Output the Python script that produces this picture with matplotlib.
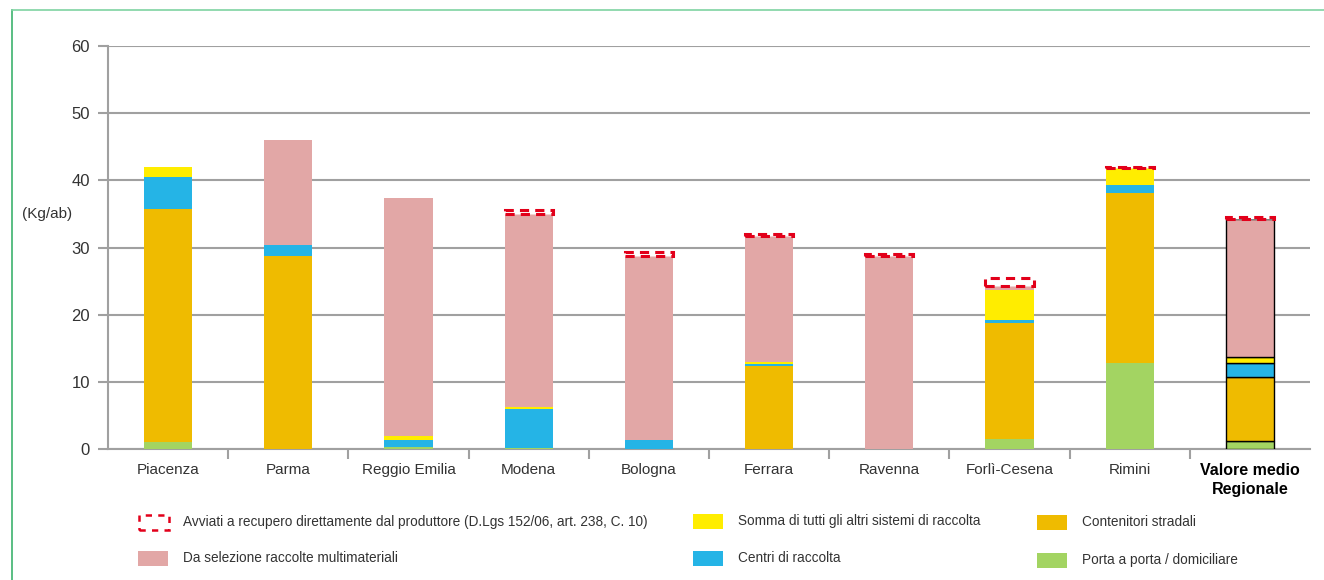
import matplotlib
matplotlib.use("Agg")
import matplotlib.pyplot as plt
from matplotlib.patches import Rectangle
from matplotlib.lines import Line2D
import numpy as np

plt.rcParams['font.family'] = ['Liberation Sans', 'DejaVu Sans']

categories = ["Piacenza", "Parma", "Reggio Emilia", "Modena", "Bologna", "Ferrara",
              "Ravenna", "Forlì-Cesena", "Rimini", "Valore medio\nRegionale"]
porta_a_porta = [1.1, 0.0, 0.3, 0.1, 0.0, 0.0, 0.0, 1.45, 12.75, 1.25]
contenitori = [34.6, 28.8, 0.0, 0.0, 0.0, 12.3, 0.0, 17.25, 25.4, 9.5]
centri = [4.8, 1.6, 1.0, 5.85, 1.3, 0.3, 0.0, 0.5, 1.1, 2.0]
altri_sistemi = [1.5, 0.0, 0.6, 0.3, 0.0, 0.35, 0.0, 4.5, 2.6, 0.9]
multimateriali = [0.0, 15.6, 35.4, 28.7, 27.5, 18.7, 28.8, 0.5, 0.0, 20.55]
avviati = [0.0, 0.0, 0.0, 0.6, 0.5, 0.3, 0.3, 1.2, 0.2, 0.3]

series = [
    ("Porta a porta / domiciliare", porta_a_porta, "#a3d462"),
    ("Contenitori stradali", contenitori, "#efbb00"),
    ("Centri di raccolta", centri, "#25b4e6"),
    ("Somma di tutti gli altri sistemi di raccolta", altri_sistemi, "#ffed00"),
    ("Da selezione raccolte multimateriali", multimateriali, "#e2a7a6"),
]
red = "#e2001a"
grid_c = "#a0a0a0"
txt_c = "#333333"

fig = plt.figure(figsize=(13.24, 5.8), dpi=100)
ax = fig.add_axes([108/1324, 1-449/580, (1310-108)/1324, (449-46)/580])

x = np.arange(len(categories))
w = 0.4
bottom = np.zeros(len(categories))
n = len(categories)
for label, vals, col in series:
    vals = np.array(vals)
    ec = ['black' if i == n-1 else 'none' for i in range(n)]
    lw = [1.0 if i == n-1 else 0 for i in range(n)]
    ax.bar(x, vals, w, bottom=bottom, color=col, edgecolor=ec, linewidth=lw, zorder=3)
    bottom += vals
av = np.array(avviati)
for i in range(n):
    if av[i] > 0:
        ax.bar(x[i], av[i], w, bottom=bottom[i], facecolor='white', edgecolor=red,
               linewidth=2.2, linestyle=(0, (3, 2)), zorder=3)

ax.set_xlim(-0.5, n-0.5)
ax.set_ylim(0, 60)
ax.set_yticks(range(0, 61, 10))
ax.yaxis.grid(True, color=grid_c, linewidth=1.5, zorder=0)
ax.set_axisbelow(True)
for s in ['top', 'right']:
    ax.spines[s].set_visible(False)
for s in ['left', 'bottom']:
    ax.spines[s].set_color(grid_c)
    ax.spines[s].set_linewidth(1.5)
ax.tick_params(axis='y', colors=grid_c, length=7, width=1.5, labelcolor=txt_c, labelsize=12, pad=6)
ax.set_xticks(x)
ax.set_xticklabels(categories, fontsize=11, color=txt_c)
ax.tick_params(axis='x', length=0, pad=10)
ax.set_xticks(np.arange(0.5, n-0.5, 1.0), minor=True)
ax.tick_params(axis='x', which='minor', length=7, width=1.5, colors=grid_c)
lab = ax.get_xticklabels()[-1]
lab.set_fontweight('bold')
lab.set_fontsize(11.5)
lab.set_color('black')
lab.set_linespacing(1.35)

fig.text(22/1324, 1-214/580, "(Kg/ab)", fontsize=11, color=txt_c, va='center', ha='left')

# figure border lines
fig.add_artist(Line2D([12/1324, 12/1324], [0, 1-10/580], color="#3db36e", lw=1.2, transform=fig.transFigure))
fig.add_artist(Line2D([12/1324, 1], [1-10/580, 1-10/580], color="#7fd3a2", lw=1.2, transform=fig.transFigure))

# legend
def leg_patch(px, py, fc, ec='none', ls='solid', lw=0):
    fig.add_artist(Rectangle((px/1324, 1-(py+7.5)/580), 30/1324, 15/580, facecolor=fc,
                             edgecolor=ec, linestyle=ls, linewidth=lw, transform=fig.transFigure))

items = [
    (138, 522, "Avviati a recupero direttamente dal produttore (D.Lgs 152/06, art. 238, C. 10)", 'white', red),
    (138, 558, "Da selezione raccolte multimateriali", "#e2a7a6", None),
    (693, 521, "Somma di tutti gli altri sistemi di raccolta", "#ffed00", None),
    (693, 558, "Centri di raccolta", "#25b4e6", None),
    (1037, 522, "Contenitori stradali", "#efbb00", None),
    (1037, 560, "Porta a porta / domiciliare", "#a3d462", None),
]
for px, py, txt, fc, ec in items:
    if ec:
        leg_patch(px+1, py, fc, ec=ec, ls=(0, (2.5, 2.5)), lw=1.8)
    else:
        leg_patch(px, py, fc)
    fig.text((px+45)/1324, 1-py/580, txt, fontsize=9.8, color=txt_c, va='center', ha='left')

fig.savefig("out.png", dpi=100)
